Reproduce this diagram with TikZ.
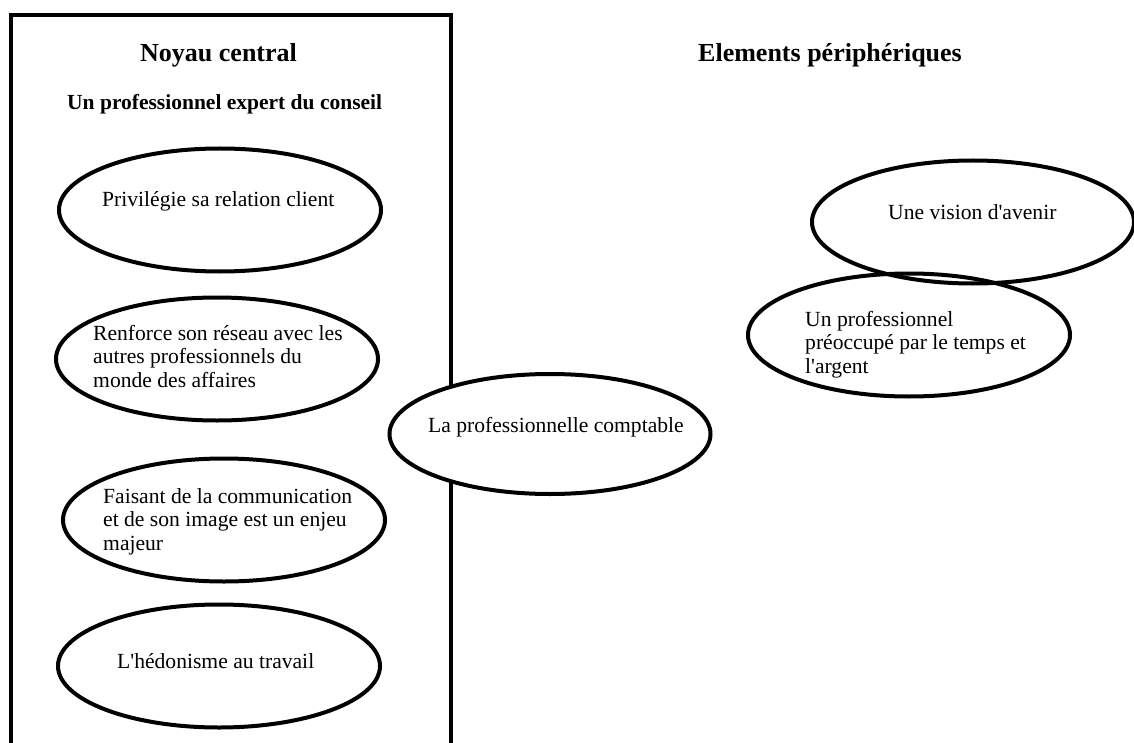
\documentclass[tikz,border=0pt]{standalone}
\usepackage{fontspec}
\setmainfont{Liberation Serif}
\usetikzlibrary{shapes.geometric, positioning}

\tikzset{
  bubble/.style={draw, ellipse, line width=4pt, minimum width=322pt, minimum height=123pt, inner sep=0pt},
  txt/.style={anchor=base west, inner sep=0pt, align=left, font=\fontsize{21.6}{23.5}\selectfont},
  heading/.style={anchor=base west, inner sep=0pt, font=\fontsize{26}{30}\selectfont\bfseries},
}

\begin{document}
\begin{tikzpicture}[x=1pt, y=-1pt]
    \useasboundingbox (0,0) rectangle (1134,743);

    % cadre du noyau central
    \draw[line width=4.5pt] (11,743) -- (11,15) -- (451,15) -- (451,743);

    \node[heading] (noyau) at (140,62) {Noyau central};
    \node[heading, font=\fontsize{21.5}{25}\selectfont\bfseries] (expert) at (67,110) {Un professionnel expert du conseil};
    \node[heading] (peri) at (698,62) {Elements périphériques};

    % ellipses
    \node[bubble] (client) at (220,210) {};
    \node[bubble] (reseau) at (217,359) {};
    \node[bubble] (image) at (224,520) {};
    \node[bubble] (hedonisme) at (219,666) {};
    \node[bubble, fill=white, minimum width=321pt, minimum height=120pt] (comptable) at (550,434) {};
    \node[bubble] (avenir) at (973,222) {};
    \node[bubble] (temps) at (909,335) {};

    % textes (base = derniere ligne)
    \node[txt] (clienttxt) at (102,207) {Privilégie sa relation client};
    \node[txt] (reseautxt) at (93,387) {Renforce son réseau avec les\\autres professionnels du\\monde des affaires};
    \node[txt] (imagetxt) at (103,550) {Faisant de la communication\\et de son image est un enjeu\\majeur};
    \node[txt] (hedonismetxt) at (117,668) {L\textquotesingle hédonisme au travail};
    \node[txt] (comptabletxt) at (428,432) {La professionnelle comptable};
    \node[txt] (avenirtxt) at (888,220) {Une vision d\textquotesingle avenir};
    \node[txt] (tempstxt) at (805,373) {Un professionnel\\préoccupé par le temps et\\l\textquotesingle argent};
\end{tikzpicture}
\end{document}
